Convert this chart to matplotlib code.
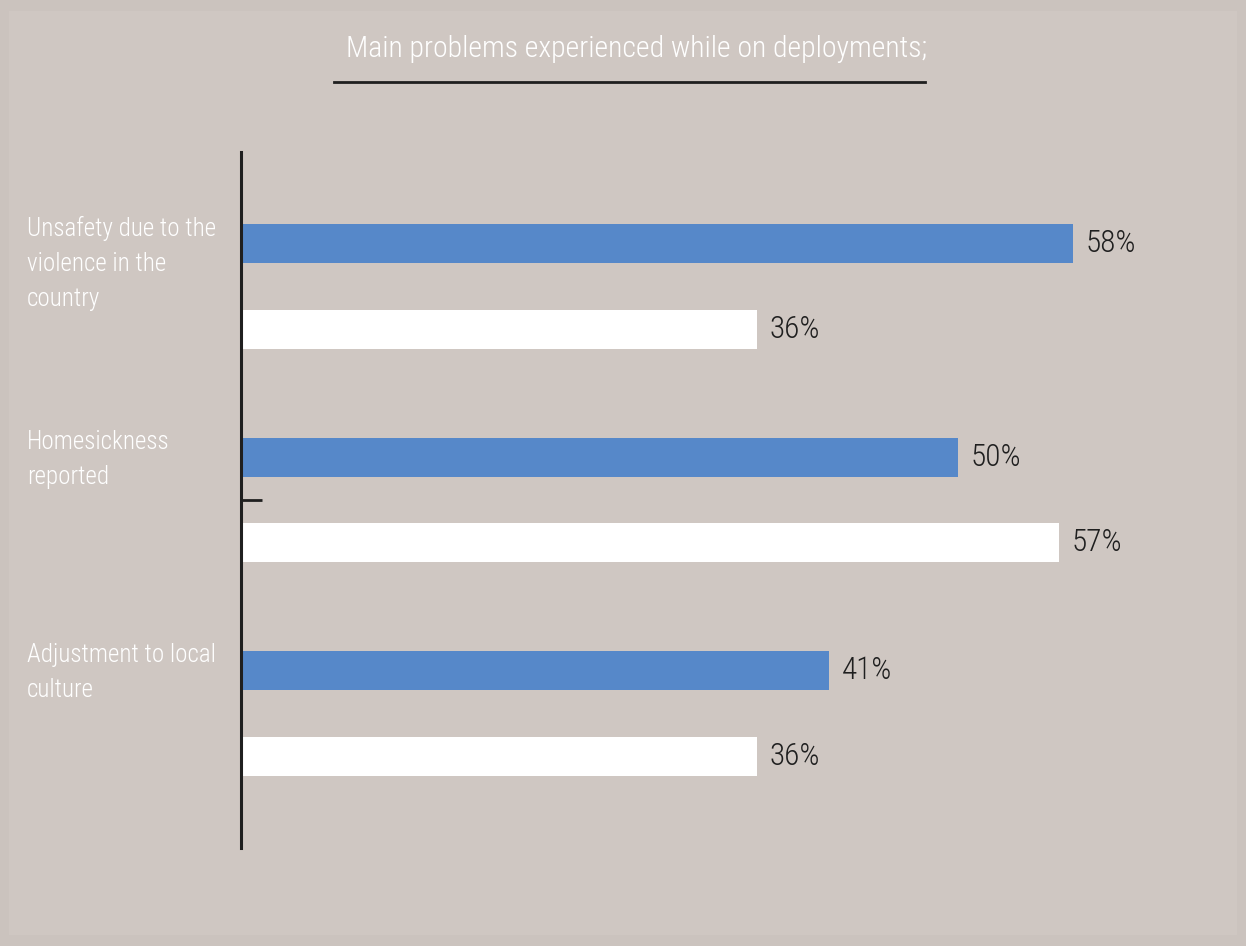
import matplotlib.pyplot as plt
from matplotlib.patches import Rectangle
from matplotlib.lines import Line2D
import matplotlib.transforms as mtransforms

plt.rcParams["font.family"] = ["Roboto Condensed", "Liberation Sans Narrow", "DejaVu Sans"]

TITLE = "Main problems experienced while on deployments;"
CATEGORIES = [
    "Unsafety due to the\nviolence in the\ncountry",
    "Homesickness\nreported",
    "Adjustment to local\nculture",
]
SERIES_A = [58, 50, 41]  # blue bars
SERIES_B = [36, 57, 36]  # white bars

BG_OUTER = "#cbc3be"
BG_INNER = "#cfc7c2"
BLUE = "#5688c9"
DARK = "#1f1f1f"

W, H = 1246, 946
fig = plt.figure(figsize=(W / 100, H / 100), dpi=100)
fig.patch.set_facecolor(BG_OUTER)
fig.patches.append(Rectangle((9 / W, 11 / H), (W - 18) / W, (H - 22) / H,
                             transform=fig.transFigure, facecolor=BG_INNER,
                             edgecolor="none", zorder=-5))

ax_left, ax_right = 241 / W, 1200 / W
ax_bottom, ax_top = 1 - 848 / H, 1 - 152 / H
ax = fig.add_axes([ax_left, ax_bottom, ax_right - ax_left, ax_top - ax_bottom])
ax.set_facecolor("none")
ax.set_zorder(2)

xmax = (1200 - 241) / ((1073 - 241) / 58)
ax.set_xlim(0, xmax)
ax.set_ylim(2.63, -0.63)

pos = list(range(len(CATEGORIES)))
off = 0.2
bh = 0.183
ax.barh([p - off for p in pos], SERIES_A, height=bh, color=BLUE, zorder=2)
ax.barh([p + off for p in pos], SERIES_B, height=bh, color="white", zorder=2)

for p, a, b in zip(pos, SERIES_A, SERIES_B):
    for y, v in ((p - off, a), (p + off, b)):
        ax.annotate(f"{v}%", (v, y), xytext=(9, 0), textcoords="offset points",
                    ha="left", va="center", fontsize=22.5, color=DARK,
                    fontweight="light")

for s in ("top", "right", "bottom"):
    ax.spines[s].set_visible(False)
ax.spines["left"].set_color(DARK)
ax.spines["left"].set_linewidth(2.2)
ax.set_xticks([])
ax.set_yticks([1])
ax.set_yticklabels([""])
ax.tick_params(axis="y", direction="in", length=15, width=2, color=DARK)

# category labels, left aligned near the figure edge
trans = mtransforms.blended_transform_factory(fig.transFigure, ax.transData)
for p, cat in zip(pos, CATEGORIES):
    ax.text(27 / W, p - 0.33, cat, transform=trans, ha="left", va="top",
            fontsize=18, color="white", fontweight="light", linespacing=1.58,
            clip_on=False)

fig.text(636 / W, 1 - 49 / H, TITLE, ha="center", va="center",
         fontsize=21.4, color="white", fontweight="light")
fig.lines.append(Line2D([334 / W, 925 / W], [1 - 82 / H, 1 - 82 / H],
                        transform=fig.transFigure, color=DARK, linewidth=2))

fig.savefig("out.png", dpi=100, facecolor=fig.get_facecolor())
